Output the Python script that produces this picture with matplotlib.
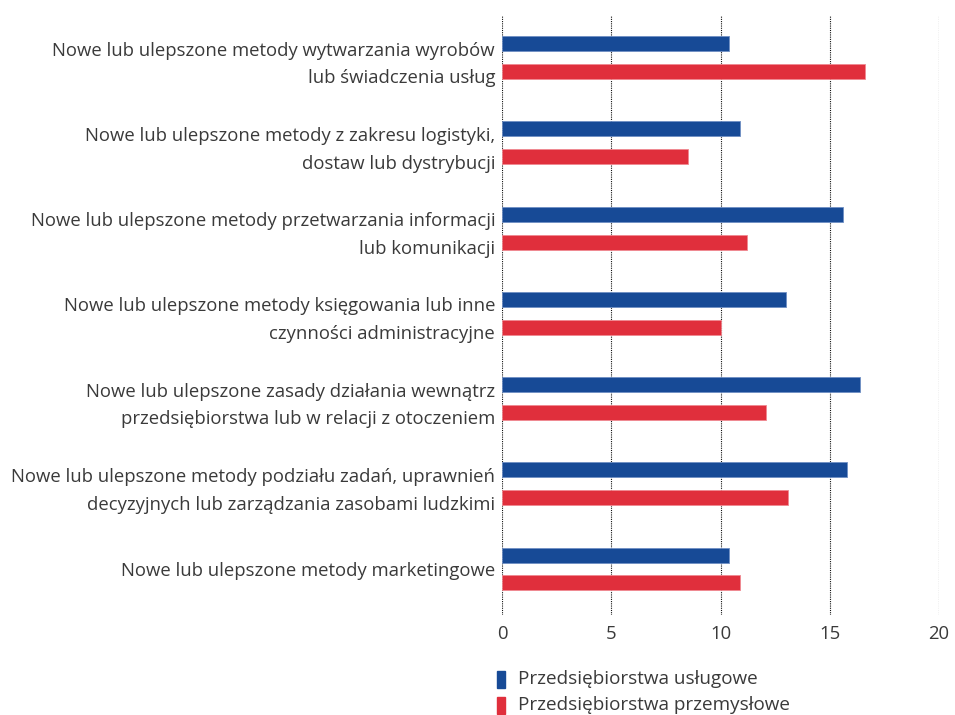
import matplotlib
matplotlib.use("Agg")
import matplotlib.pyplot as plt
from matplotlib.patches import Rectangle

plt.rcParams['font.family'] = ['Open Sans', 'DejaVu Sans']

categories = [
    "Nowe lub ulepszone metody wytwarzania wyrobów\nlub świadczenia usług",
    "Nowe lub ulepszone metody z zakresu logistyki,\ndostaw lub dystrybucji",
    "Nowe lub ulepszone metody przetwarzania informacji\nlub komunikacji",
    "Nowe lub ulepszone metody księgowania lub inne\nczynności administracyjne",
    "Nowe lub ulepszone zasady działania wewnątrz\nprzedsiębiorstwa lub w relacji z otoczeniem",
    "Nowe lub ulepszone metody podziału zadań, uprawnień\ndecyzyjnych lub zarządzania zasobami ludzkimi",
    "Nowe lub ulepszone metody marketingowe",
]
uslugowe = [10.4, 10.9, 15.6, 13.0, 16.4, 15.8, 10.4]
przemyslowe = [16.6, 8.5, 11.2, 10.0, 12.1, 13.1, 10.9]
series_names = ["Przedsiębiorstwa usługowe", "Przedsiębiorstwa przemysłowe"]
xticks = [0, 5, 10, 15, 20]

BLUE = "#174A96"
RED = "#E02F3C"
TXT = "#3a3a3a"
FS = 13.3

fig = plt.figure(figsize=(9.55, 7.15), dpi=100)
ax = fig.add_axes([502/955, 1-615/715, 437/955, 600/715])

pos = list(range(len(categories)))
h = 0.176
off = 0.164
ax.barh([p - off for p in pos], uslugowe, height=h, color=BLUE,
        edgecolor="#6f8fc4", linewidth=0.6, zorder=3)
ax.barh([p + off for p in pos], przemyslowe, height=h, color=RED,
        edgecolor="#f08890", linewidth=0.6, zorder=3)

ax.set_xlim(0, 20)
ax.set_ylim(6.54, -0.5)
ax.set_xticks(xticks)
ax.set_xticklabels([str(t) for t in xticks], fontsize=FS, color=TXT)
ax.set_yticks(pos)
ax.set_yticklabels(categories, fontsize=FS, color=TXT, linespacing=1.7)
ax.tick_params(axis='y', length=0, pad=5)
ax.tick_params(axis='x', length=0, pad=7)
for s in ax.spines.values():
    s.set_visible(False)
ax.grid(axis='x', color='#111111', linestyle=(0, (1, 1)), linewidth=0.8, zorder=0)
ax.grid(axis='y', visible=False)

# legend
for i, (name, col) in enumerate(zip(series_names, [BLUE, RED])):
    yc = 679 + i * 26
    fig.add_artist(Rectangle((497/955, 1-(yc+8.5)/715), 8/955, 17/715,
                             color=col, transform=fig.transFigure))
    fig.text(518/955, 1-yc/715, name, fontsize=13.6, color=TXT,
             va='center', ha='left')

fig.savefig("out.png", dpi=100)
